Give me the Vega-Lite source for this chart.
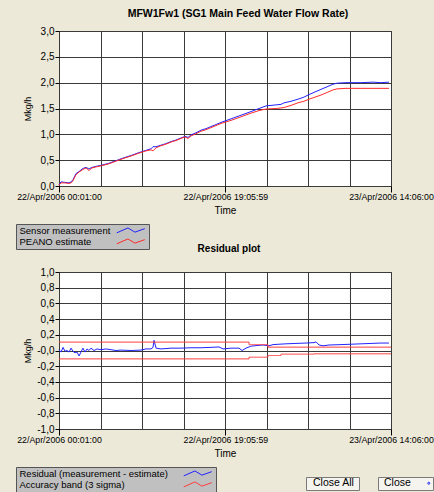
{
  "$schema": "https://vega.github.io/schema/vega-lite/v6.json",
  "background": "#ECE9D8",
  "padding": {"left": 15, "top": 8, "right": 2, "bottom": 1},
  "bounds": "flush",
  "spacing": 86,
  "config": {
    "font": "Liberation Sans",
    "view": {"fill": "white", "stroke": "#333333", "strokeWidth": 1},
    "axis": {
      "labelFont": "Liberation Sans", "labelFontSize": 9.5, "labelColor": "black",
      "titleFont": "Liberation Sans", "titleFontWeight": "normal", "titleColor": "black",
      "gridColor": "#3a3a3a", "gridOpacity": 1, "gridWidth": 1,
      "tickColor": "black", "domain": false
    },
    "title": {"font": "Liberation Sans", "fontWeight": "bold", "color": "black"},
    "legend": {
      "orient": "none", "title": null, "fillColor": "#C0C0C0", "strokeColor": "#555555",
      "padding": 2, "labelFont": "Liberation Sans", "labelFontSize": 9.5, "labelColor": "black",
      "labelLimit": 300, "symbolType": "M-4,0.6L-0.8,-0.8L1.2,0.4L4,-0.6", "symbolSize": 49,
      "symbolStrokeWidth": 1, "symbolFillColor": "transparent", "rowPadding": 0
    }
  },
  "resolve": {
    "scale": {"color": "independent", "opacity": "independent", "strokeDash": "independent"},
    "legend": {"color": "independent", "opacity": "independent", "strokeDash": "independent"}
  },
  "vconcat": [
    {
      "title": {"text": "MFW1Fw1 (SG1 Main Feed Water Flow Rate)", "fontSize": 10.5, "offset": 7, "dx": 13},
      "width": 332, "height": 155,
      "resolve": {"axis": {"x": "independent"}},
      "layer": [
        {
          "data": {"values": [
            {"t": "2006-04-22T00:01", "v": 0.03}, {"t": "2006-04-22T00:15", "v": 0.08}, {"t": "2006-04-22T00:42", "v": 0.07},
            {"t": "2006-04-22T01:10", "v": 0.06}, {"t": "2006-04-22T01:24", "v": 0.08}, {"t": "2006-04-22T01:37", "v": 0.12},
            {"t": "2006-04-22T01:58", "v": 0.24}, {"t": "2006-04-22T02:19", "v": 0.28}, {"t": "2006-04-22T02:46", "v": 0.34},
            {"t": "2006-04-22T03:07", "v": 0.36}, {"t": "2006-04-22T03:27", "v": 0.33}, {"t": "2006-04-22T03:48", "v": 0.36},
            {"t": "2006-04-22T04:16", "v": 0.38}, {"t": "2006-04-22T04:50", "v": 0.40}, {"t": "2006-04-22T05:45", "v": 0.44},
            {"t": "2006-04-22T06:33", "v": 0.49}, {"t": "2006-04-22T07:21", "v": 0.54}, {"t": "2006-04-22T08:17", "v": 0.59},
            {"t": "2006-04-22T09:05", "v": 0.64}, {"t": "2006-04-22T10:00", "v": 0.69}, {"t": "2006-04-22T10:34", "v": 0.72},
            {"t": "2006-04-22T10:48", "v": 0.76}, {"t": "2006-04-22T11:09", "v": 0.76}, {"t": "2006-04-22T11:43", "v": 0.79},
            {"t": "2006-04-22T12:17", "v": 0.82}, {"t": "2006-04-22T12:52", "v": 0.86}, {"t": "2006-04-22T13:26", "v": 0.89},
            {"t": "2006-04-22T14:01", "v": 0.93}, {"t": "2006-04-22T14:28", "v": 0.96}, {"t": "2006-04-22T14:49", "v": 0.94},
            {"t": "2006-04-22T15:10", "v": 0.99}, {"t": "2006-04-22T15:44", "v": 1.03}, {"t": "2006-04-22T16:18", "v": 1.08},
            {"t": "2006-04-22T16:53", "v": 1.11}, {"t": "2006-04-22T17:27", "v": 1.15}, {"t": "2006-04-22T18:02", "v": 1.19},
            {"t": "2006-04-22T18:36", "v": 1.23}, {"t": "2006-04-22T19:45", "v": 1.30}, {"t": "2006-04-22T20:54", "v": 1.37},
            {"t": "2006-04-22T22:02", "v": 1.44}, {"t": "2006-04-22T22:58", "v": 1.50}, {"t": "2006-04-22T23:46", "v": 1.55},
            {"t": "2006-04-23T00:55", "v": 1.57}, {"t": "2006-04-23T01:29", "v": 1.58}, {"t": "2006-04-23T01:50", "v": 1.61},
            {"t": "2006-04-23T02:38", "v": 1.64}, {"t": "2006-04-23T03:26", "v": 1.68}, {"t": "2006-04-23T04:07", "v": 1.72},
            {"t": "2006-04-23T04:42", "v": 1.77}, {"t": "2006-04-23T05:23", "v": 1.82}, {"t": "2006-04-23T06:04", "v": 1.87},
            {"t": "2006-04-23T06:46", "v": 1.92}, {"t": "2006-04-23T07:27", "v": 1.97}, {"t": "2006-04-23T07:55", "v": 1.99},
            {"t": "2006-04-23T08:56", "v": 2.00}, {"t": "2006-04-23T10:40", "v": 2.00}, {"t": "2006-04-23T12:02", "v": 2.01},
            {"t": "2006-04-23T12:57", "v": 2.00}, {"t": "2006-04-23T13:52", "v": 2.01}
          ]},
          "mark": {"type": "line", "strokeWidth": 1},
          "encoding": {
            "x": {"field": "t", "type": "temporal",
              "scale": {"domain": [{"year": 2006, "month": "apr", "date": 22, "hours": 0, "minutes": 1}, {"year": 2006, "month": "apr", "date": 23, "hours": 14, "minutes": 6}]},
              "axis": {"orient": "top", "grid": true, "labels": false, "ticks": false, "domain": false, "title": null, "tickCount": 20,
                "values": [
                  {"year": 2006, "month": "apr", "date": 22, "hours": 0, "minutes": 1},
                  {"year": 2006, "month": "apr", "date": 22, "hours": 4, "minutes": 46, "seconds": 37, "milliseconds": 500},
                  {"year": 2006, "month": "apr", "date": 22, "hours": 9, "minutes": 32, "seconds": 15},
                  {"year": 2006, "month": "apr", "date": 22, "hours": 14, "minutes": 17, "seconds": 52, "milliseconds": 500},
                  {"year": 2006, "month": "apr", "date": 22, "hours": 19, "minutes": 3, "seconds": 30},
                  {"year": 2006, "month": "apr", "date": 22, "hours": 23, "minutes": 49, "seconds": 7, "milliseconds": 500},
                  {"year": 2006, "month": "apr", "date": 23, "hours": 4, "minutes": 34, "seconds": 45},
                  {"year": 2006, "month": "apr", "date": 23, "hours": 9, "minutes": 20, "seconds": 22, "milliseconds": 500},
                  {"year": 2006, "month": "apr", "date": 23, "hours": 14, "minutes": 6}
                ]}},
            "y": {"field": "v", "type": "quantitative", "scale": {"domain": [0, 3]},
              "axis": {"values": [0, 0.5, 1, 1.5, 2, 2.5, 3], "tickCount": 20, "grid": true, "tickSize": 4, "labelPadding": 1,
                "labelOverlap": false, "labelFontSize": 10,
                "labelExpr": "replace(format(datum.value, '.1f'), '.', ',')",
                "title": "Mkg/h", "titleFontSize": 9, "titleX": -27}},
            "color": {"datum": "Sensor measurement",
              "scale": {"domain": ["Sensor measurement", "PEANO estimate"], "range": ["#2222ff", "#ff2a2a"]},
              "legend": {"legendX": -43, "legendY": 193, "symbolOffset": 108, "labelOffset": -116}}
          }
        },
        {
          "data": {"values": [
            {"t": "2006-04-22T00:01", "v": 0.02}, {"t": "2006-04-22T00:15", "v": 0.06}, {"t": "2006-04-22T00:42", "v": 0.06},
            {"t": "2006-04-22T01:10", "v": 0.05}, {"t": "2006-04-22T01:24", "v": 0.06}, {"t": "2006-04-22T01:37", "v": 0.10},
            {"t": "2006-04-22T01:58", "v": 0.22}, {"t": "2006-04-22T02:19", "v": 0.27}, {"t": "2006-04-22T02:46", "v": 0.32},
            {"t": "2006-04-22T03:07", "v": 0.35}, {"t": "2006-04-22T03:27", "v": 0.30}, {"t": "2006-04-22T03:48", "v": 0.35},
            {"t": "2006-04-22T04:16", "v": 0.37}, {"t": "2006-04-22T04:50", "v": 0.39}, {"t": "2006-04-22T05:45", "v": 0.43},
            {"t": "2006-04-22T06:33", "v": 0.48}, {"t": "2006-04-22T07:21", "v": 0.53}, {"t": "2006-04-22T08:17", "v": 0.58},
            {"t": "2006-04-22T09:05", "v": 0.63}, {"t": "2006-04-22T10:00", "v": 0.68}, {"t": "2006-04-22T10:34", "v": 0.70},
            {"t": "2006-04-22T10:48", "v": 0.68}, {"t": "2006-04-22T11:09", "v": 0.74}, {"t": "2006-04-22T11:43", "v": 0.78},
            {"t": "2006-04-22T12:17", "v": 0.81}, {"t": "2006-04-22T12:52", "v": 0.85}, {"t": "2006-04-22T13:26", "v": 0.88},
            {"t": "2006-04-22T14:01", "v": 0.92}, {"t": "2006-04-22T14:28", "v": 0.95}, {"t": "2006-04-22T14:49", "v": 0.92},
            {"t": "2006-04-22T15:10", "v": 0.97}, {"t": "2006-04-22T15:44", "v": 1.01}, {"t": "2006-04-22T16:18", "v": 1.06},
            {"t": "2006-04-22T16:53", "v": 1.09}, {"t": "2006-04-22T17:27", "v": 1.13}, {"t": "2006-04-22T18:02", "v": 1.17},
            {"t": "2006-04-22T18:36", "v": 1.21}, {"t": "2006-04-22T19:45", "v": 1.27}, {"t": "2006-04-22T20:54", "v": 1.34},
            {"t": "2006-04-22T22:02", "v": 1.41}, {"t": "2006-04-22T22:58", "v": 1.46}, {"t": "2006-04-22T23:46", "v": 1.49},
            {"t": "2006-04-23T00:55", "v": 1.50}, {"t": "2006-04-23T01:29", "v": 1.51}, {"t": "2006-04-23T01:50", "v": 1.52},
            {"t": "2006-04-23T02:38", "v": 1.56}, {"t": "2006-04-23T03:26", "v": 1.61}, {"t": "2006-04-23T04:07", "v": 1.64},
            {"t": "2006-04-23T04:42", "v": 1.68}, {"t": "2006-04-23T05:23", "v": 1.72}, {"t": "2006-04-23T06:04", "v": 1.76},
            {"t": "2006-04-23T06:46", "v": 1.81}, {"t": "2006-04-23T07:27", "v": 1.86}, {"t": "2006-04-23T07:55", "v": 1.88},
            {"t": "2006-04-23T08:56", "v": 1.89}, {"t": "2006-04-23T10:40", "v": 1.89}, {"t": "2006-04-23T12:02", "v": 1.89},
            {"t": "2006-04-23T12:57", "v": 1.89}, {"t": "2006-04-23T13:52", "v": 1.89}
          ]},
          "mark": {"type": "line", "strokeWidth": 1},
          "encoding": {
            "x": {"field": "t", "type": "temporal",
              "axis": {"orient": "bottom", "grid": false, "tickSize": 6, "labelPadding": 0, "labelFontSize": 8.8, "tickCount": 20,
                "format": "%d/%b/%Y %H:%M:%S", "labelFlush": false, "labelOverlap": false, "labelBound": false,
                "title": "Time", "titleFontSize": 10, "titlePadding": 5,
                "values": [
                  {"year": 2006, "month": "apr", "date": 22, "hours": 0, "minutes": 1},
                  {"year": 2006, "month": "apr", "date": 22, "hours": 19, "minutes": 5, "seconds": 59},
                  {"year": 2006, "month": "apr", "date": 23, "hours": 14, "minutes": 6}
                ]}},
            "y": {"field": "v", "type": "quantitative"},
            "color": {"datum": "PEANO estimate"}
          }
        }
      ]
    },
    {
      "title": {"text": "Residual plot", "fontSize": 10, "offset": 13, "dx": 4},
      "width": 332, "height": 157,
      "resolve": {"axis": {"x": "independent"}},
      "layer": [
        {
          "data": {"values": [
            {"t": "2006-04-22T00:01", "v": 0.01}, {"t": "2006-04-22T00:15", "v": -0.02}, {"t": "2006-04-22T00:29", "v": 0.04},
            {"t": "2006-04-22T00:42", "v": -0.01}, {"t": "2006-04-22T00:56", "v": 0.0}, {"t": "2006-04-22T01:10", "v": -0.02},
            {"t": "2006-04-22T01:24", "v": 0.03}, {"t": "2006-04-22T01:37", "v": -0.01}, {"t": "2006-04-22T01:51", "v": -0.03},
            {"t": "2006-04-22T02:05", "v": -0.02}, {"t": "2006-04-22T02:19", "v": -0.07}, {"t": "2006-04-22T02:32", "v": -0.02},
            {"t": "2006-04-22T02:46", "v": 0.03}, {"t": "2006-04-22T03:00", "v": -0.02}, {"t": "2006-04-22T03:14", "v": 0.02},
            {"t": "2006-04-22T03:27", "v": 0.0}, {"t": "2006-04-22T03:41", "v": 0.03}, {"t": "2006-04-22T04:02", "v": 0.0},
            {"t": "2006-04-22T04:23", "v": 0.02}, {"t": "2006-04-22T04:50", "v": 0.01}, {"t": "2006-04-22T05:24", "v": 0.02},
            {"t": "2006-04-22T05:59", "v": 0.01}, {"t": "2006-04-22T06:33", "v": 0.0}, {"t": "2006-04-22T07:08", "v": 0.005},
            {"t": "2006-04-22T08:17", "v": 0.0}, {"t": "2006-04-22T09:25", "v": 0.005}, {"t": "2006-04-22T10:00", "v": 0.02},
            {"t": "2006-04-22T10:34", "v": 0.02}, {"t": "2006-04-22T10:48", "v": 0.04}, {"t": "2006-04-22T10:55", "v": 0.13},
            {"t": "2006-04-22T11:09", "v": 0.03}, {"t": "2006-04-22T11:43", "v": 0.02}, {"t": "2006-04-22T12:52", "v": 0.03},
            {"t": "2006-04-22T14:01", "v": 0.03}, {"t": "2006-04-22T15:10", "v": 0.035}, {"t": "2006-04-22T16:18", "v": 0.035},
            {"t": "2006-04-22T17:27", "v": 0.04}, {"t": "2006-04-22T18:22", "v": 0.045}, {"t": "2006-04-22T18:50", "v": 0.02},
            {"t": "2006-04-22T19:45", "v": 0.03}, {"t": "2006-04-22T20:40", "v": 0.03}, {"t": "2006-04-22T21:01", "v": 0.0},
            {"t": "2006-04-22T21:28", "v": 0.03}, {"t": "2006-04-22T22:02", "v": 0.055}, {"t": "2006-04-22T22:51", "v": 0.065},
            {"t": "2006-04-22T23:25", "v": 0.07}, {"t": "2006-04-23T00:06", "v": 0.06}, {"t": "2006-04-23T00:34", "v": 0.075},
            {"t": "2006-04-23T01:15", "v": 0.08}, {"t": "2006-04-23T02:03", "v": 0.085}, {"t": "2006-04-23T03:12", "v": 0.09},
            {"t": "2006-04-23T04:21", "v": 0.095}, {"t": "2006-04-23T05:16", "v": 0.10}, {"t": "2006-04-23T05:30", "v": 0.11},
            {"t": "2006-04-23T05:51", "v": 0.07}, {"t": "2006-04-23T06:18", "v": 0.06}, {"t": "2006-04-23T06:59", "v": 0.07},
            {"t": "2006-04-23T08:22", "v": 0.075}, {"t": "2006-04-23T09:31", "v": 0.08}, {"t": "2006-04-23T10:40", "v": 0.085},
            {"t": "2006-04-23T11:49", "v": 0.09}, {"t": "2006-04-23T12:57", "v": 0.095}, {"t": "2006-04-23T13:52", "v": 0.095}
          ]},
          "mark": {"type": "line", "strokeWidth": 1},
          "encoding": {
            "x": {"field": "t", "type": "temporal",
              "scale": {"domain": [{"year": 2006, "month": "apr", "date": 22, "hours": 0, "minutes": 1}, {"year": 2006, "month": "apr", "date": 23, "hours": 14, "minutes": 6}]},
              "axis": {"orient": "top", "grid": true, "labels": false, "ticks": false, "domain": false, "title": null, "tickCount": 20,
                "values": [
                  {"year": 2006, "month": "apr", "date": 22, "hours": 0, "minutes": 1},
                  {"year": 2006, "month": "apr", "date": 22, "hours": 4, "minutes": 46, "seconds": 37, "milliseconds": 500},
                  {"year": 2006, "month": "apr", "date": 22, "hours": 9, "minutes": 32, "seconds": 15},
                  {"year": 2006, "month": "apr", "date": 22, "hours": 14, "minutes": 17, "seconds": 52, "milliseconds": 500},
                  {"year": 2006, "month": "apr", "date": 22, "hours": 19, "minutes": 3, "seconds": 30},
                  {"year": 2006, "month": "apr", "date": 22, "hours": 23, "minutes": 49, "seconds": 7, "milliseconds": 500},
                  {"year": 2006, "month": "apr", "date": 23, "hours": 4, "minutes": 34, "seconds": 45},
                  {"year": 2006, "month": "apr", "date": 23, "hours": 9, "minutes": 20, "seconds": 22, "milliseconds": 500},
                  {"year": 2006, "month": "apr", "date": 23, "hours": 14, "minutes": 6}
                ]}},
            "y": {"field": "v", "type": "quantitative", "scale": {"domain": [-1, 1]},
              "axis": {"values": [-1, -0.8, -0.6, -0.4, -0.2, 0, 0.2, 0.4, 0.6, 0.8, 1], "tickCount": 20, "grid": true, "tickSize": 4, "labelPadding": 1,
                "labelOverlap": false, "labelFontSize": 10,
                "labelExpr": "(datum.value < 0.000001 ? '-' : '') + replace(format(abs(datum.value), '.1f'), '.', ',')",
                "title": "Mkg/h", "titleFontSize": 9, "titleX": -27}},
            "color": {"datum": "Residual (measurement - estimate)",
              "scale": {"domain": ["Residual (measurement - estimate)", "Accuracy band (3 sigma)"], "range": ["#2222ff", "#ff3c3c"]},
              "legend": {"legendX": -43, "legendY": 195, "symbolOffset": 175, "labelOffset": -183}},
            "opacity": {"datum": "Close",
              "scale": {"range": [1]},
              "legend": {"legendX": 319, "legendY": 205, "fillColor": "#F5F4EF", "strokeColor": "#7a7a7a", "padding": 1,
                "labelFontSize": 10.5, "symbolType": "circle", "symbolSize": 4, "symbolOpacity": 0,
                "symbolOffset": 44.5, "labelOffset": -50,
                "encode": {"symbols": {"update": {"stroke": {"value": "transparent"}, "fill": {"value": "transparent"}}}}}}
          }
        },
        {
          "data": {"values": [
            {"t": "2006-04-22T00:01", "v": 0.107, "part": "upper"}, {"t": "2006-04-22T21:49", "v": 0.075, "part": "upper"},
            {"t": "2006-04-22T23:59", "v": 0.043, "part": "upper"}, {"t": "2006-04-23T14:06", "v": 0.043, "part": "upper"},
            {"t": "2006-04-22T00:01", "v": -0.107, "part": "lower"}, {"t": "2006-04-22T21:49", "v": -0.085, "part": "lower"},
            {"t": "2006-04-22T23:59", "v": -0.064, "part": "lower"}, {"t": "2006-04-23T01:29", "v": -0.046, "part": "lower"},
            {"t": "2006-04-23T05:16", "v": -0.042, "part": "lower"}, {"t": "2006-04-23T14:06", "v": -0.042, "part": "lower"}
          ]},
          "mark": {"type": "line", "strokeWidth": 1, "interpolate": "step-after"},
          "encoding": {
            "x": {"field": "t", "type": "temporal",
              "axis": {"orient": "bottom", "grid": false, "tickSize": 6, "labelPadding": 0, "labelFontSize": 8.8, "tickCount": 20,
                "format": "%d/%b/%Y %H:%M:%S", "labelFlush": false, "labelOverlap": false, "labelBound": false,
                "title": "Time", "titleFontSize": 10, "titlePadding": 5,
                "values": [
                  {"year": 2006, "month": "apr", "date": 22, "hours": 0, "minutes": 1},
                  {"year": 2006, "month": "apr", "date": 22, "hours": 19, "minutes": 5, "seconds": 59},
                  {"year": 2006, "month": "apr", "date": 23, "hours": 14, "minutes": 6}
                ]}},
            "y": {"field": "v", "type": "quantitative"},
            "detail": {"field": "part"},
            "color": {"datum": "Accuracy band (3 sigma)"},
            "strokeDash": {"datum": "Close All",
              "scale": {"range": [[1, 0]]},
              "legend": {"legendX": 247, "legendY": 205, "fillColor": "#F5F4EF", "strokeColor": "#7a7a7a", "padding": 1,
                "labelFontSize": 10.5, "symbolType": "circle", "symbolSize": 4, "symbolOpacity": 0,
                "symbolOffset": 44.5, "labelOffset": -49,
                "encode": {"symbols": {"update": {"stroke": {"value": "transparent"}, "fill": {"value": "transparent"}}}}}}
          }
        }
      ]
    }
  ]
}
